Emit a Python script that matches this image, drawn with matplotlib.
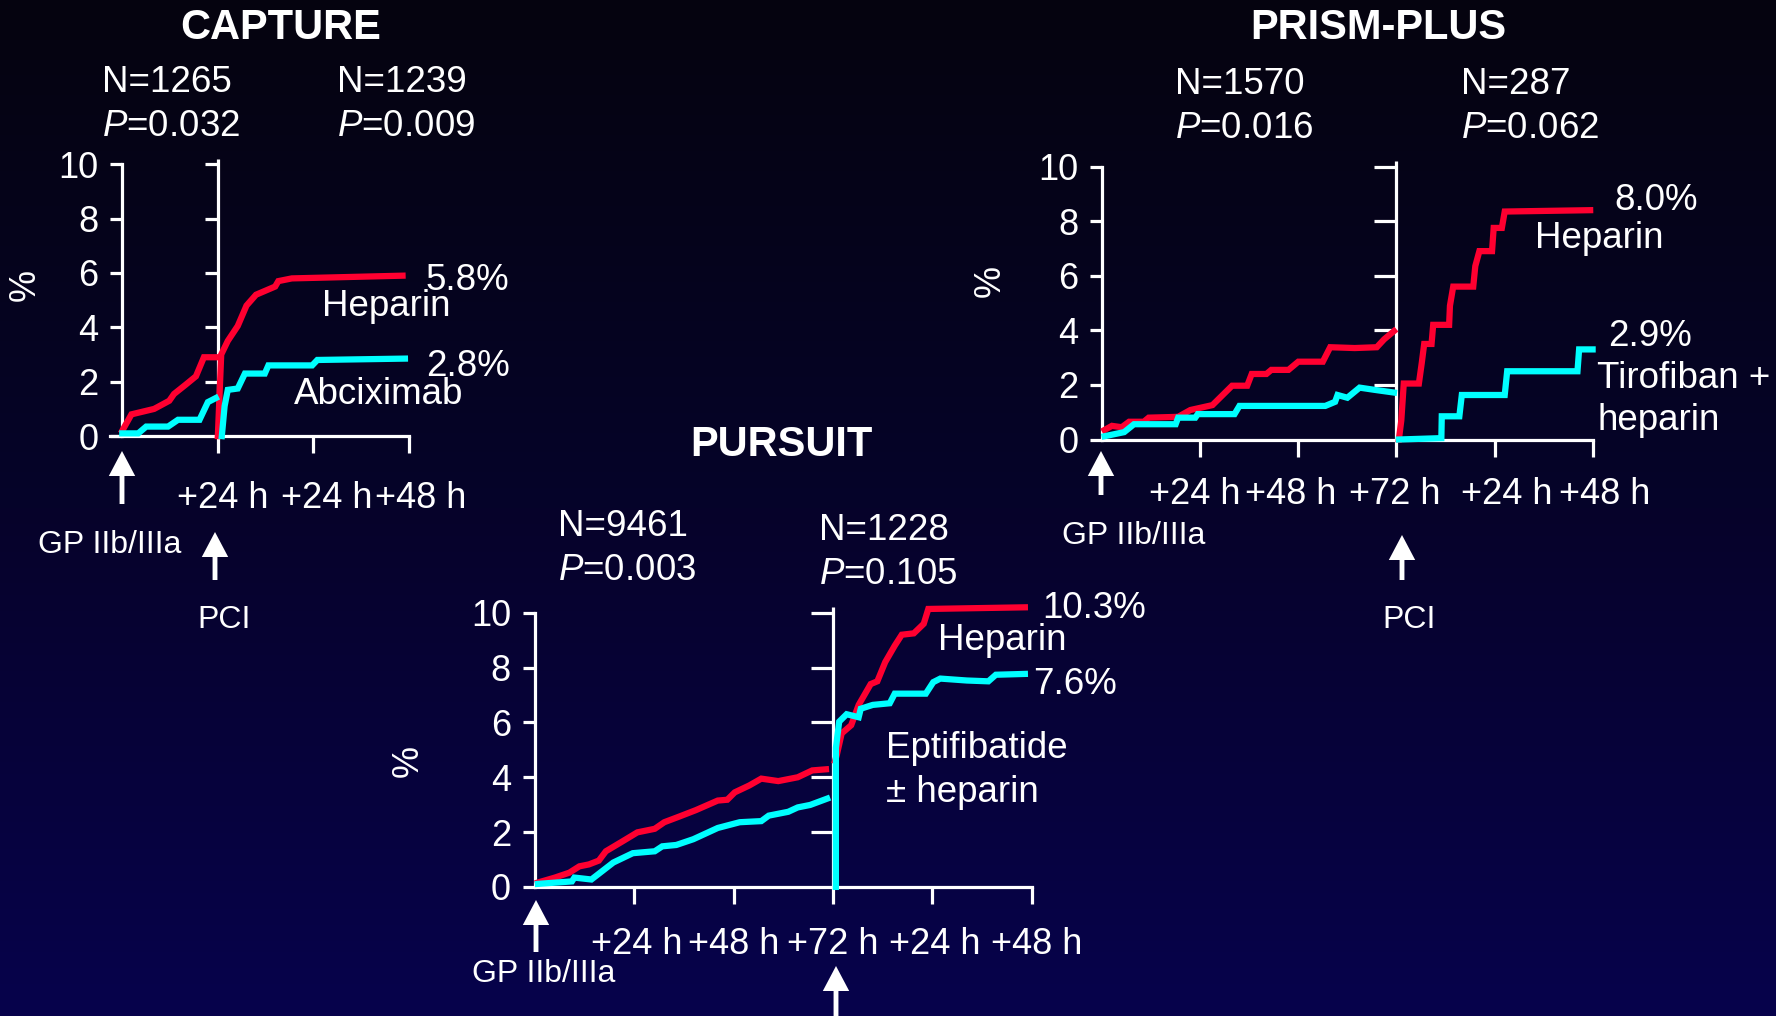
import numpy as np
import matplotlib
matplotlib.use("Agg")
import matplotlib.pyplot as plt
from matplotlib.colors import LinearSegmentedColormap
from matplotlib.transforms import ScaledTranslation

plt.rcParams['font.family'] = ['Liberation Sans', 'DejaVu Sans']
plt.rcParams['mathtext.fontset'] = 'custom'
plt.rcParams['mathtext.rm'] = 'Liberation Sans'
plt.rcParams['mathtext.it'] = 'Liberation Sans:italic'

RED = '#ff0030'
CYAN = '#00ffff'
W, H = 1776, 1016

# ---- data (hours, %) ----
# CAPTURE: 24 h before PCI, then 48 h after
cap_hep_pre_t = [0, 2.3, 8, 11.8, 13, 16, 18.5, 20.5, 23.7]
cap_hep_pre_y = [0.2, 0.8, 1.0, 1.3, 1.55, 1.9, 2.2, 2.9, 2.9]
cap_hep_post_t = [0, 0.85, 2.5, 5, 7.2, 9.6, 14.4, 15.2, 18.6, 46.4]
cap_hep_post_y = [0, 3.0, 3.5, 4.05, 4.8, 5.2, 5.5, 5.7, 5.8, 5.9]
cap_abc_pre_t = [0, 4, 6, 11.5, 14, 19.4, 21.5, 23.5]
cap_abc_pre_y = [0.1, 0.1, 0.35, 0.35, 0.6, 0.6, 1.25, 1.4]
cap_abc_post_t = [1, 1.7, 2.5, 5, 6.8, 11.8, 12.7, 23.7, 25, 47]
cap_abc_post_y = [0, 1.1, 1.7, 1.75, 2.3, 2.3, 2.6, 2.6, 2.8, 2.85]

# PRISM-PLUS: 72 h before PCI, then 48 h after
pr_hep_pre_t = [0.6, 2.4, 4.8, 6.6, 10.2, 11.4, 18.6, 21.6, 27, 31.8, 35.5, 36.6,
                40.2, 41.4, 45.6, 48, 54, 55.8, 61.8, 67.2, 69, 71.4]
pr_hep_pre_y = [0.35, 0.5, 0.45, 0.65, 0.65, 0.8, 0.83, 1.08, 1.26, 1.97, 1.97, 2.4,
                2.4, 2.55, 2.55, 2.85, 2.85, 3.38, 3.35, 3.38, 3.67, 3.97]
pr_tir_pre_t = [0.6, 5.4, 7.8, 18, 18.6, 22.8, 23.4, 32.4, 33.6, 54.6, 57, 57.6,
                60, 63, 66.6, 71.4]
pr_tir_pre_y = [0.12, 0.27, 0.56, 0.56, 0.8, 0.8, 0.93, 0.93, 1.23, 1.23, 1.38, 1.63,
                1.53, 1.9, 1.82, 1.72]
pr_hep_post_t = [0.6, 1.2, 1.8, 5.5, 6.2, 6.8, 8.6, 9, 12.9, 13.1, 13.9, 18.8, 19.3,
                 20.3, 23.4, 23.8, 25.8, 26.5, 47.4]
pr_hep_post_y = [0, 0.7, 2.05, 2.05, 2.8, 3.5, 3.5, 4.2, 4.2, 4.9, 5.6, 5.6, 6.35,
                 6.9, 6.9, 7.75, 7.75, 8.35, 8.4]
pr_tir_post_t = [0.6, 11, 11.1, 15.4, 16, 26.5, 27.1, 44.3, 44.7, 48]
pr_tir_post_y = [0, 0.05, 0.85, 0.85, 1.63, 1.63, 2.5, 2.5, 3.3, 3.3]

# PURSUIT: 72 h before PCI, then 48 h after
pu_hep_pre_t = [0.8, 4.9, 8.4, 10.8, 13.1, 15.5, 17.2, 21.3, 24.8, 29, 31.3, 34.8,
                38.9, 44.2, 46.5, 48.3, 51.8, 54.7, 58.8, 63.5, 67, 70.3]
pu_hep_pre_y = [0.16, 0.34, 0.52, 0.75, 0.82, 0.96, 1.3, 1.67, 1.99, 2.12, 2.36, 2.56,
                2.8, 3.15, 3.18, 3.45, 3.7, 3.95, 3.86, 4.0, 4.25, 4.29]
pu_ept_pre_t = [0.8, 9, 9.6, 13.7, 15.5, 19, 23.7, 29, 30.8, 34.2, 38.3, 44.2, 49.5,
                54.7, 56.5, 61.2, 63.5, 66.5, 70.6]
pu_ept_pre_y = [0.11, 0.2, 0.34, 0.27, 0.48, 0.89, 1.23, 1.3, 1.48, 1.53, 1.74, 2.15,
                2.36, 2.4, 2.6, 2.74, 2.9, 2.99, 3.22]
pu_hep_post_t = [0.5, 0.9, 2.1, 4.4, 6.2, 9.1, 10.7, 12.6, 14.9, 16.6, 19.5, 21.9, 23, 46.3]
pu_hep_post_y = [4.6, 4.8, 5.6, 5.9, 6.64, 7.4, 7.5, 8.2, 8.8, 9.2, 9.25, 9.6, 10.14, 10.2]
pu_ept_post_t = [0.7, 0.7, 1.5, 3.3, 6.2, 6.7, 9.6, 13.7, 14.9, 22.4, 24.2, 25.9, 32.3,
                 37.5, 39.3, 46.3]
pu_ept_post_y = [0, 5.07, 6.03, 6.3, 6.19, 6.5, 6.64, 6.7, 7.05, 7.05, 7.47, 7.6, 7.53,
                 7.5, 7.74, 7.77]

yticks = [0, 2, 4, 6, 8, 10]
cap_xticks = [24, 48, 72]
cap_xlabels = ['+24 h', '+24 h', '+48 h']
long_xticks = [24, 48, 72, 96, 120]
long_xlabels = ['+24 h', '+48 h', '+72 h', '+24 h', '+48 h']


def fx(px):
    return px / W


def fy(py):
    return 1 - py / H


fig = plt.figure(figsize=(17.76, 10.16), dpi=100)

# background gradient
bg = fig.add_axes([0, 0, 1, 1], zorder=-10)
cmap = LinearSegmentedColormap.from_list('bg', ['#05030f', '#06032a', '#07024c'])
bg.imshow(np.linspace(0, 1, 256).reshape(-1, 1), aspect='auto', cmap=cmap,
          extent=[0, 1, 0, 1])
bg.axis('off')


def panel(rect, pre_len, total, xticks, xlabels, series, xpad, xbound0=0.0,
          label_dx=None):
    ax = fig.add_axes(rect)
    ax.set_facecolor('none')
    ax.set_xlim(0, total)
    ax.set_ylim(0, 10)
    for s in ['top', 'right']:
        ax.spines[s].set_visible(False)
    for s in ['left', 'bottom']:
        ax.spines[s].set_color('white')
        ax.spines[s].set_linewidth(2.3)
    ax.spines['bottom'].set_bounds(xbound0, total)
    ax.set_yticks(yticks)
    ax.set_xticks(xticks)
    ax.set_xticklabels(xlabels)
    ax.tick_params(axis='y', colors='white', length=9, width=2.3, pad=8, labelsize=26)
    ax.tick_params(axis='x', colors='white', length=12, width=2.3, pad=xpad, labelsize=26)
    if label_dx:
        for lab, dx in zip(ax.get_xticklabels(), label_dx):
            lab.set_transform(lab.get_transform() +
                              ScaledTranslation(dx / 100, 0, fig.dpi_scale_trans))
    # PCI axis
    ax.plot([pre_len, pre_len], [0, 10.2], color='white', lw=2.3, clip_on=False,
            solid_capstyle='butt')
    ax.hlines(yticks[1:], pre_len - total * 0.045, pre_len, color='white', lw=2.3,
              clip_on=False)
    for t, y, c, off in series:
        ax.plot(np.array(t) + off, y, color=c, lw=4.5, clip_on=False,
                solid_joinstyle='miter', zorder=3)
    return ax


cap = panel([fx(122.3), fy(436.1), fx(408.9) - fx(122.3), (436.1 - 164.2) / H],
            24, 72, cap_xticks, cap_xlabels,
            [(cap_hep_pre_t, cap_hep_pre_y, RED, 0),
             (cap_hep_post_t, cap_hep_post_y, RED, 24),
             (cap_abc_pre_t, cap_abc_pre_y, CYAN, 0),
             (cap_abc_post_t, cap_abc_post_y, CYAN, 24)], xpad=20, xbound0=-3,
            label_dx=[5, 13, 12])

prism = panel([fx(1102.1), fy(439.5), fx(1592.6) - fx(1102.1), (439.5 - 166.5) / H],
              72, 120, long_xticks, long_xlabels,
              [(pr_hep_pre_t, pr_hep_pre_y, RED, 0),
               (pr_hep_post_t, pr_hep_post_y, RED, 72),
               (pr_tir_pre_t, pr_tir_pre_y, CYAN, 0),
               (pr_tir_post_t, pr_tir_post_y, CYAN, 72)], xpad=15,
              label_dx=[-5, -8, -2, 12, 12])

pursuit = panel([fx(534.6), fy(886.9), fx(1031.9) - fx(534.6), (886.9 - 612.8) / H],
                72, 120, long_xticks, long_xlabels,
                [(pu_hep_pre_t, pu_hep_pre_y, RED, 0),
                 (pu_hep_post_t, pu_hep_post_y, RED, 72),
                 (pu_ept_pre_t, pu_ept_pre_y, CYAN, 0),
                 (pu_ept_post_t, pu_ept_post_y, CYAN, 72)], xpad=17,
                label_dx=[3, 0, 0, 2, 5])


def txt(px, py, s, size=26.5, ha='left', **kw):
    fig.text(fx(px), fy(py), s, color='white', fontsize=size, ha=ha, va='center', **kw)


# titles
txt(281, 28, 'CAPTURE', 30, 'center', fontweight='bold')
txt(1378, 28, 'PRISM-PLUS', 30, 'center', fontweight='bold')
txt(781, 445, 'PURSUIT', 30, 'center', fontweight='bold')

# N and P values
for x, y, n, p in [(102, 83, 'N=1265', '0.032'), (337, 83, 'N=1239', '0.009'),
                   (1175, 85, 'N=1570', '0.016'), (1461, 85, 'N=287', '0.062'),
                   (558, 527, 'N=9461', '0.003'), (819, 531, 'N=1228', '0.105')]:
    txt(x, y, n)
    txt(x, y + 44, r'$\mathit{P}$=' + p)

# % labels
txt(25, 285, '%', 26, 'center', rotation=90)
txt(990, 281, '%', 26, 'center', rotation=90)
txt(408, 761, '%', 26, 'center', rotation=90)

# curve labels
txt(426, 280, '5.8%')
txt(322, 306, 'Heparin')
txt(426, 367, '2.8%')
txt(294, 394, 'Abciximab')
txt(1614, 200, '8.0%')
txt(1535, 238, 'Heparin')
txt(1608, 336, '2.9%')
txt(1597, 378, 'Tirofiban +')
txt(1597, 421, 'heparin')
txt(1042, 608, '10.3%')
txt(938, 640, 'Heparin')
txt(1033, 684, '7.6%')
txt(886, 748, 'Eptifibatide')
txt(886, 793, '± heparin')

# arrows and event labels
arrow_kw = dict(width=3.5, headwidth=19, headlength=18, facecolor='white',
                edgecolor='none', shrink=0)
for x, y0, y1 in [(122, 504, 451), (215, 580, 532), (1101, 495, 451),
                  (1402, 580, 535), (536, 952, 900), (836, 1030, 966)]:
    fig.add_artist(plt.Annotation('', xy=(fx(x), fy(y1)), xytext=(fx(x), fy(y0)),
                                  xycoords='figure fraction',
                                  textcoords='figure fraction',
                                  arrowprops=arrow_kw))

txt(110, 545, 'GP IIb/IIIa', 23, 'center')
txt(1134, 536, 'GP IIb/IIIa', 23, 'center')
txt(544, 974, 'GP IIb/IIIa', 23, 'center')
txt(224, 620, 'PCI', 23, 'center')
txt(1409, 620, 'PCI', 23, 'center')

fig.savefig('out.png', dpi=100)
